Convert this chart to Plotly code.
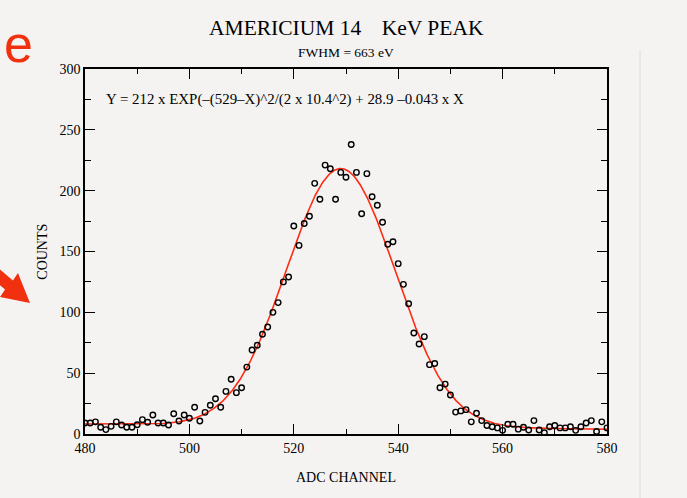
import numpy as np
import plotly.graph_objects as go

# Measured counts per ADC channel
channels = list(range(480, 581))
counts = [9, 9, 10, 5.5, 3.6, 6.3, 10, 7.4, 5.5, 5.5,
          7.6, 11.8, 9.6, 15.6, 9, 9, 7.4, 16.7, 10.7, 15.6,
          12.9, 22, 10.7, 17.8, 23.6, 29, 22, 35, 45, 34,
          38, 55, 69, 73, 82, 88, 100, 108, 125, 129,
          171, 155, 173, 179, 206, 193, 221, 218, 193, 215,
          211, 238, 215, 181, 214, 195, 188, 174, 156, 158,
          140, 123, 107, 83, 74, 80, 57, 58, 38, 41,
          32, 18, 19, 20, 10, 17, 11, 7, 6, 5,
          3, 8, 8, 4, 5.5, 3.3, 11, 3.3, 1, 6,
          7, 5, 5, 6, 3, 6, 9, 11, 2, 10,
          5]

# Fit parameters (as printed on the chart)
AMP = 212
MU = 529
SIGMA = 10.4
B0 = 28.9
B1 = -0.043

xfit = np.linspace(480, 580, 801)
yfit = AMP * np.exp(-(MU - xfit) ** 2 / (2 * SIGMA ** 2)) + B0 + B1 * xfit

BG = "#f4f3f1"
SERIF = "Liberation Serif"
RED = "#f0300e"

# plot-area geometry (pixels) used to place decorations outside the axes
L, R, T, B = 85, 80, 69, 64
W, H = 687, 498
PW, PH = W - L - R, H - T - B


def to_paper(px, py):
    return (px - L) / PW, (H - B - py) / PH


arrow_px = [(30, 303), (18, 273), (12.9, 280.5), (-17.4, 254.5),
            (-25.2, 263.5), (5.1, 289.5), (0, 297)]
arrow_path = "M " + " L ".join(f"{to_paper(x, y)[0]:.4f},{to_paper(x, y)[1]:.4f}"
                               for x, y in arrow_px) + " Z"
ex, ey = to_paper(18, 44)

fig = go.Figure()
fig.add_trace(go.Scatter(x=xfit, y=yfit, mode="lines",
                         line=dict(color="#ff2a12", width=1.6),
                         hoverinfo="skip", showlegend=False))
fig.add_trace(go.Scatter(x=channels, y=counts, mode="markers",
                         marker=dict(symbol="circle-open", size=5.5, color="black",
                                     line=dict(width=1.4, color="black")),
                         showlegend=False))

axis_common = dict(showgrid=False, zeroline=False, showline=True, linecolor="black",
                   linewidth=1.5, mirror="ticks", ticks="inside", ticklen=10,
                   tickwidth=1.2, tickcolor="black",
                   tickfont=dict(family=SERIF, size=14, color="black"))

fig.update_xaxes(range=[480, 580], dtick=20, tick0=480,
                 minor=dict(ticks="inside", dtick=10, ticklen=5, tickwidth=1.2, tickcolor="black"),
                 **axis_common)
fig.update_yaxes(range=[0, 300], dtick=50, tick0=0,
                 minor=dict(ticks="inside", dtick=25, ticklen=6, tickwidth=1.2, tickcolor="black"),
                 **axis_common)

annotations = [
    dict(text="AMERICIUM 14\u2002\u2009 KeV PEAK", x=0.5, y=1.112, xref="paper", yref="paper",
         showarrow=False, font=dict(family=SERIF, size=21.5, color="black"), yanchor="middle"),
    dict(text="FWHM = 663 eV", x=0.5, y=1.045, xref="paper", yref="paper",
         showarrow=False, font=dict(family=SERIF, size=13.5, color="black"), yanchor="middle"),
    dict(text="Y = 212 x EXP(\u2013(529\u2013X)^2/(2 x 10.4^2) + 28.9 \u20130.043 x X",
         x=483.6, y=275, xref="x", yref="y", xanchor="left", yanchor="middle",
         showarrow=False, font=dict(family=SERIF, size=14.9, color="black")),
    dict(text="ADC CHANNEL", x=0.5, y=-0.118, xref="paper", yref="paper",
         showarrow=False, font=dict(family=SERIF, size=14, color="black"), yanchor="middle"),
    dict(text="COUNTS", x=-0.082, y=0.5, xref="paper", yref="paper", textangle=-90,
         showarrow=False, font=dict(family=SERIF, size=14, color="black"),
         xanchor="center", yanchor="middle"),
    dict(text="e", x=ex, y=ey, xref="paper", yref="paper",
         showarrow=False, font=dict(family="Liberation Sans", size=52, color=RED),
         xanchor="center", yanchor="middle"),
]

fig.update_layout(width=W, height=H,
                  margin=dict(l=L, r=R, t=T, b=B),
                  paper_bgcolor=BG, plot_bgcolor=BG,
                  annotations=annotations,
                  shapes=[dict(type="line", xref="paper", yref="paper",
                               x0=to_paper(640, 0)[0], x1=to_paper(640, 0)[0],
                               y0=to_paper(0, 50)[1], y1=to_paper(0, 498)[1],
                               line=dict(color="#dcdcdc", width=1)),
                          dict(type="path", xref="paper", yref="paper", path=arrow_path,
                               fillcolor=RED, line=dict(color=RED, width=0))])

fig.write_html("out.html", config={"displayModeBar": False},
               post_script="document.body.style.margin='0';document.body.style.overflow='hidden';")
